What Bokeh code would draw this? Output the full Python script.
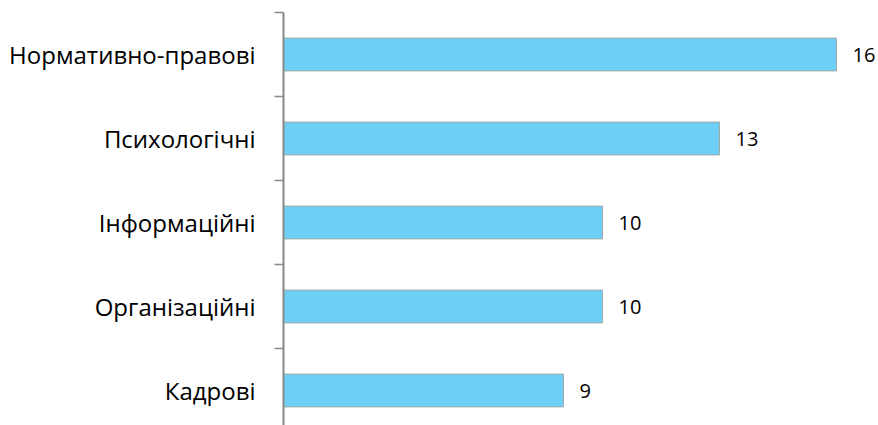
from bokeh.plotting import figure
from bokeh.models import Range1d, FixedTicker, ColumnDataSource
from bokeh.core.properties import value
from bokeh.embed import file_html
from bokeh.resources import INLINE

categories = ["Нормативно-правові", "Психологічні", "Інформаційні", "Організаційні", "Кадрові"]
values = [16, 13, 10, 10, 9]

FONT = "Open Sans"
centers = [i + 0.5 for i in range(len(categories))]
src = ColumnDataSource(dict(y=centers, v=values, lbl=[str(v) for v in values]))

W, H = 878, 425
left, top = 283, 12
frame_h = H - top
frame_w = W - left
px_per_unit = 39.0
x0 = 1.82

p = figure(width=W, height=H, output_backend="svg", toolbar_location=None,
           x_range=Range1d(x0, x0 + frame_w / px_per_unit),
           y_range=Range1d(frame_h / 84.0, 0),
           min_border_left=left, min_border_top=top, min_border_bottom=0, min_border_right=0)
p.outline_line_color = None
p.xgrid.visible = False
p.ygrid.visible = False
p.xaxis.visible = False

p.hbar(y="y", left=0, right="v", height=0.39, source=src,
       fill_color="#6DCFF6", line_color="#A6A6A6", line_width=1)
p.text(x="v", y="y", text="lbl", source=src, x_offset=16,
       text_font=value(FONT), text_font_size="20px", text_baseline="middle",
       text_align="left", text_color="#000000")

ax = p.yaxis[0]
ax.ticker = FixedTicker(ticks=centers, minor_ticks=list(range(len(categories) + 1)))
ax.major_label_overrides = {c: n for c, n in zip(centers, categories)}
ax.major_tick_line_color = None
ax.major_tick_out = 0
ax.major_tick_in = 0
ax.minor_tick_out = 9
ax.minor_tick_in = 0
ax.minor_tick_line_color = "#888888"
ax.minor_tick_line_width = 1.5
ax.axis_line_color = "#888888"
ax.axis_line_width = 2
ax.major_label_standoff = 19
ax.major_label_text_font = FONT
ax.major_label_text_font_size = "24px"
ax.major_label_text_color = "#000000"

open("out.html", "w").write(file_html(p, INLINE))
